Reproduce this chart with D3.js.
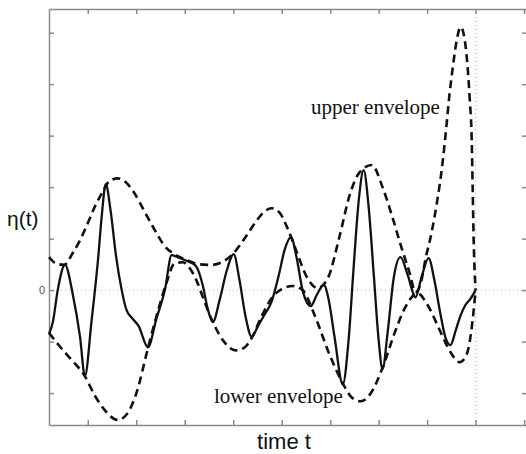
<!DOCTYPE html>
<html>
<head>
<meta charset="utf-8">
<script src="https://cdn.jsdelivr.net/npm/d3@7"></script>
<style>
  html, body { margin: 0; padding: 0; background: #fff; }
  svg { display: block; }
  .frame path, .frame line { stroke: #8a8a8a; stroke-width: 1.5; }
</style>
</head>
<body>
<svg id="chart" width="526" height="454"></svg>
<script>
// signal eta(t)
const signalT = [0.20, 0.28, 0.38, 0.53, 0.69, 0.84, 0.94, 1.08, 1.21, 1.29, 1.37, 1.47, 1.58, 1.70, 1.80, 1.91, 2.05, 2.24, 2.42, 2.59,
  2.73, 2.90, 3.06, 3.23, 3.37, 3.47, 3.58, 3.72, 3.87, 4.01, 4.13, 4.26, 4.38, 4.51, 4.65, 4.79, 4.94, 5.06, 5.19, 5.31,
  5.43, 5.60, 5.72, 5.87, 5.97, 6.09, 6.26, 6.38, 6.48, 6.59, 6.69, 6.79, 6.90, 7.00, 7.08, 7.19, 7.31, 7.45, 7.60, 7.76,
  7.89, 8.03, 8.15, 8.26, 8.38, 8.48, 8.59, 8.69, 8.79, 8.90, 9.00]
const signalEta = [-0.85, -0.62, 0.00, 0.49, -0.08, -0.91, -1.67, -0.58, 0.58, 1.46, 2.06, 1.55, 0.68, 0.00, -0.39, -0.54, -0.70, -1.11, -0.54, 0.00,
  0.68, 0.62, 0.56, 0.47, 0.10, -0.35, -0.62, -0.19, 0.39, 0.70, 0.19, -0.54, -0.91, -0.70, -0.47, -0.23, 0.29, 0.78, 1.03, 0.62,
  0.00, -0.31, -0.10, 0.10, -0.19, -0.91, -1.83, -0.97, 0.39, 1.75, 2.33, 1.65, 0.29, -0.97, -1.53, -0.78, 0.23, 0.64, 0.29, -0.14,
  0.27, 0.62, 0.19, -0.39, -0.93, -1.07, -0.78, -0.49, -0.29, -0.16, 0.00]

// upper envelope
const upperT = [0.20, 0.34, 0.51, 0.69, 0.84, 1.00, 1.14, 1.29, 1.45, 1.62, 1.78, 1.95, 2.18, 2.38, 2.59, 2.75, 3.00, 3.31, 3.56, 3.80,
  4.01, 4.24, 4.46, 4.65, 4.79, 4.96, 5.12, 5.31, 5.52, 5.74, 5.95, 6.20, 6.40, 6.61, 6.86, 7.08, 7.27, 7.47, 7.64, 7.76,
  7.87, 7.97, 8.09, 8.20, 8.30, 8.38, 8.46, 8.53, 8.61, 8.69, 8.75, 8.84, 8.88, 8.92, 8.94, 8.96, 9.00]
const upperEta = [0.64, 0.52, 0.49, 0.72, 0.97, 1.30, 1.61, 1.88, 2.12, 2.17, 2.10, 1.90, 1.51, 1.17, 0.85, 0.72, 0.60, 0.50, 0.49, 0.56,
  0.72, 1.01, 1.32, 1.53, 1.59, 1.50, 1.20, 0.74, 0.25, 0.04, 0.23, 1.07, 1.84, 2.29, 2.43, 2.00, 1.46, 0.83, 0.33, -0.04,
  0.14, 0.62, 1.11, 1.69, 2.33, 3.01, 3.79, 4.33, 4.85, 5.11, 4.99, 4.27, 3.69, 2.91, 1.94, 0.97, 0.00]

// lower envelope
const lowerT = [0.20, 0.42, 0.67, 0.94, 1.14, 1.35, 1.62, 1.82, 2.01, 2.24, 2.44, 2.63, 2.79, 2.96, 3.10, 3.25, 3.41, 3.58, 3.80, 4.05,
  4.24, 4.38, 4.59, 4.79, 5.00, 5.23, 5.43, 5.68, 5.99, 6.26, 6.44, 6.63, 6.84, 7.08, 7.33, 7.54, 7.80, 8.01, 8.26, 8.46,
  8.67, 8.81, 8.90, 8.96, 9.00]
const lowerEta = [-0.83, -1.09, -1.36, -1.67, -2.04, -2.33, -2.52, -2.39, -1.98, -1.13, -0.43, 0.16, 0.52, 0.54, 0.43, 0.17, -0.23, -0.62, -0.99, -1.17,
  -1.11, -0.93, -0.50, -0.16, 0.02, 0.08, 0.00, -0.49, -1.26, -1.81, -2.08, -2.16, -2.00, -1.51, -0.83, -0.35, -0.06, -0.29, -0.78, -1.17,
  -1.40, -1.26, -0.87, -0.39, 0.00]

const xTicks = [1, 2, 3, 4, 5, 6, 7, 8, 9, 10]
const yTicks = [-2, -1, 0, 1, 2, 3, 4, 5]

const width = 526
const height = 454
const svg = d3.select('#chart')

const x = d3.scaleLinear().domain([0.2, 10.06]).range([49, 527])
const y = d3.scaleLinear().domain([-2.62, 5.46]).range([425, 9])

const zip = (ts, vs) => ts.map((t, i) => ({ t, v: vs[i] }))

// dotted reference lines
svg.append('line')
  .attr('x1', x(0.2)).attr('x2', width)
  .attr('y1', y(0)).attr('y2', y(0))
  .attr('stroke', '#b5b5b5').attr('stroke-width', 1)
  .attr('stroke-dasharray', '1,3')
svg.append('line')
  .attr('x1', x(9)).attr('x2', x(9))
  .attr('y1', y(5.46)).attr('y2', y(-2.62))
  .attr('stroke', '#b5b5b5').attr('stroke-width', 1)
  .attr('stroke-dasharray', '1,3')

// frame with inward ticks
const frame = svg.append('g').attr('class', 'frame')
frame.append('g').attr('transform', `translate(0,${y(5.46)})`)
  .call(d3.axisBottom(x).tickValues(xTicks).tickSize(5).tickSizeOuter(0).tickFormat(''))
frame.append('g').attr('transform', `translate(0,${y(-2.62)})`)
  .call(d3.axisTop(x).tickValues(xTicks).tickSize(5).tickSizeOuter(0).tickFormat(''))
frame.append('g').attr('transform', `translate(${x(0.2)},0)`)
  .call(d3.axisRight(y).tickValues(yTicks).tickSize(5).tickSizeOuter(0).tickFormat(''))
frame.append('g').attr('transform', `translate(${x(10.06)},0)`)
  .call(d3.axisLeft(y).tickValues(yTicks).tickSize(5).tickSizeOuter(0).tickFormat(''))

svg.append('text')
  .attr('x', x(0.2) - 4).attr('y', y(0) + 4)
  .attr('text-anchor', 'end')
  .attr('font-family', 'Liberation Sans, Arial, sans-serif')
  .attr('font-size', 11).attr('fill', '#555')
  .text('0')

const line = d3.line().x((d) => x(d.t)).y((d) => y(d.v))

svg.append('path')
  .datum(zip(upperT, upperEta))
  .attr('fill', 'none').attr('stroke', '#111').attr('stroke-width', 2.6)
  .attr('stroke-dasharray', '8,5')
  .attr('d', line.curve(d3.curveMonotoneX))
svg.append('path')
  .datum(zip(lowerT, lowerEta))
  .attr('fill', 'none').attr('stroke', '#111').attr('stroke-width', 2.6)
  .attr('stroke-dasharray', '8,5')
  .attr('d', line.curve(d3.curveMonotoneX))
svg.append('path')
  .datum(zip(signalT, signalEta))
  .attr('fill', 'none').attr('stroke', '#111').attr('stroke-width', 2.3)
  .attr('d', line.curve(d3.curveMonotoneX))

// labels
svg.append('text')
  .attr('x', 7).attr('y', 226)
  .attr('font-family', 'Liberation Sans, Arial, sans-serif')
  .attr('font-size', 21).attr('fill', '#111')
  .text('η(t)')
svg.append('text')
  .attr('x', 284).attr('y', 449)
  .attr('text-anchor', 'middle')
  .attr('font-family', 'Liberation Sans, Arial, sans-serif')
  .attr('font-size', 22).attr('fill', '#111')
  .text('time t')
svg.append('text')
  .attr('x', 311).attr('y', 114)
  .attr('font-family', 'Liberation Serif, Times New Roman, serif')
  .attr('font-size', 21).attr('fill', '#111')
  .text('upper envelope')
svg.append('text')
  .attr('x', 214).attr('y', 403)
  .attr('font-family', 'Liberation Serif, Times New Roman, serif')
  .attr('font-size', 21).attr('fill', '#111')
  .text('lower envelope')
</script>
</body>
</html>
